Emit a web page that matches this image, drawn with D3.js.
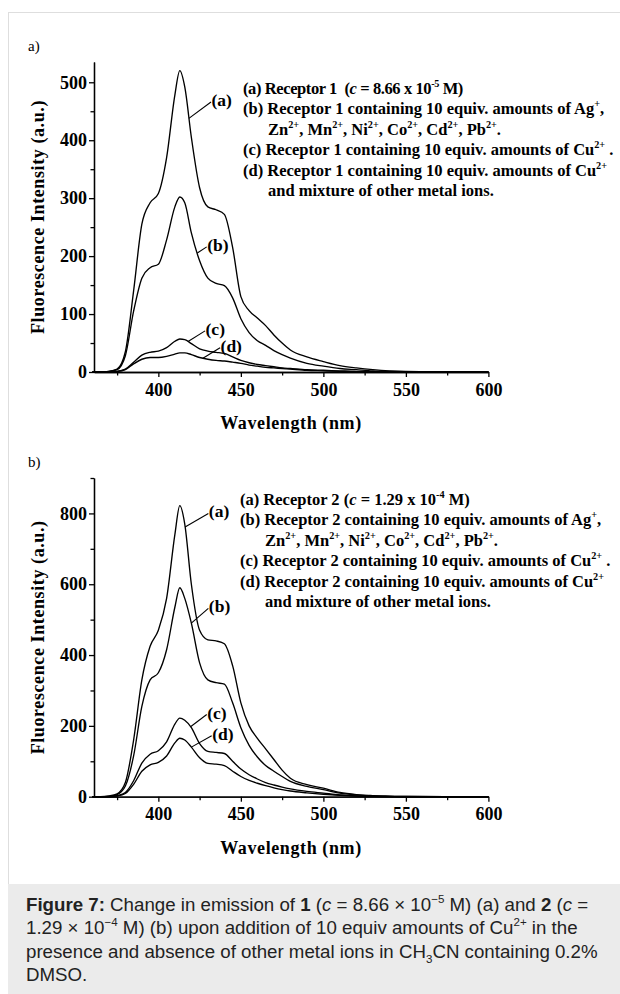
<!DOCTYPE html>
<html><head><meta charset="utf-8">
<script src="https://cdn.jsdelivr.net/npm/d3@7"></script>
<style>
body{margin:0;background:#fff}
svg{display:block}
text{white-space:pre}
</style>
</head><body>
<svg id="chart" width="620" height="994"></svg>
<script>
// ---------------- DATA ----------------
const wavelength = [360,365,370,375,380,385,390,395,400,405,410,413,416,420,425,430,435,440,445,450,455,460,465,470,475,480,490,500,510,520,530,540,550,575,600];

// Panel a) Receptor 1
const r1_a = [0,0,1,5,35,140,255,292,308,370,478,520,492,405,318,285,280,272,215,130,106,93,80,64,50,38,26,18,11,7,4,2,1,0.3,0];
const r1_b = [0,0,1,4,28,105,162,180,186,228,285,302,292,240,192,162,153,149,128,92,68,54,46,37,30,24,15,10,6,4,2,1,0.5,0,0];
const r1_c = [0,0,0,1,5,17,29,34,36,42,53,57,56,49,40,36,34,32,26,20,16,13,11,9,7,6,4,3,2,1,0.5,0,0,0,0];
const r1_d = [0,0,0,1,4,14,22,25,25,27,31,33,33,30,25,22,20,19,17,15,12,10,8,7,6,5,3,2,1,0.5,0,0,0,0,0];

// Panel b) Receptor 2
const r2_a = [0,0,2,8,40,160,330,425,470,560,740,822,770,600,470,443,440,432,370,265,200,165,135,105,75,52,34,24,12,6,3,1,0.5,0,0];
const r2_b = [0,0,1,6,30,115,255,330,350,415,535,590,560,490,378,330,322,318,265,195,145,112,88,72,57,43,29,20,10,5,2,1,0.5,0,0];
const r2_c = [0,0,0,3,12,45,95,120,130,155,205,222,216,195,150,128,125,122,100,78,62,50,40,33,27,22,15,10,5,2,1,0.5,0,0,0];
const r2_d = [0,0,0,2,9,35,72,90,97,115,152,165,160,140,110,94,92,88,72,57,46,38,31,25,20,16,11,7,4,2,1,0.5,0,0,0];

const curveLabels = ["(a)","(b)","(c)","(d)"];
const xMajorTicks = [400,450,500,550,600];
const xMinorTicks = [375,425,475,525,575];
const yMajorTicksTop = [0,100,200,300,400,500];
const yMinorTicksTop = [50,150,250,350,450];
const yMajorTicksBot = [0,200,400,600,800];
const yMinorTicksBot = [100,300,500,700,900];

// label leader lines: [wavelength on curve, label wavelength, label value]
const leadersTop = [[418.5,431.9,466],[423.6,429.3,216],[418.0,428.3,71],[427.0,437.4,42]];
const leadersBot = [[416.2,430.3,800],[420.0,430.3,532],[419.5,429.3,232],[420.0,432.3,172]];

const legendTop = [
  {x:0, ls:-0.4, segs:[{t:"(a) Receptor 1  ("},{t:"c",i:1},{t:" = 8.66 x 10"},{t:"-5",sup:1},{t:" M)"}]},
  {x:0, segs:[{t:"(b) Receptor 1 containing 10 equiv. amounts of Ag"},{t:"+",sup:1},{t:","}]},
  {x:25, segs:[{t:"Zn"},{t:"2+",sup:1},{t:", Mn"},{t:"2+",sup:1},{t:", Ni"},{t:"2+",sup:1},{t:", Co"},{t:"2+",sup:1},{t:", Cd"},{t:"2+",sup:1},{t:", Pb"},{t:"2+",sup:1},{t:"."}]},
  {x:0, segs:[{t:"(c) Receptor 1 containing 10 equiv. amounts of Cu"},{t:"2+",sup:1},{t:" ."}]},
  {x:0, segs:[{t:"(d) Receptor 1 containing 10 equiv. amounts of Cu"},{t:"2+",sup:1}]},
  {x:25, segs:[{t:"and mixture of other metal ions."}]}
];
const legendBot = [
  {x:0, segs:[{t:"(a) Receptor 2 ("},{t:"c",i:1},{t:" = 1.29 x 10"},{t:"-4",sup:1},{t:" M)"}]},
  {x:0, segs:[{t:"(b) Receptor 2 containing 10 equiv. amounts of Ag"},{t:"+",sup:1},{t:","}]},
  {x:25, segs:[{t:"Zn"},{t:"2+",sup:1},{t:", Mn"},{t:"2+",sup:1},{t:", Ni"},{t:"2+",sup:1},{t:", Co"},{t:"2+",sup:1},{t:", Cd"},{t:"2+",sup:1},{t:", Pb"},{t:"2+",sup:1},{t:"."}]},
  {x:0, segs:[{t:"(c) Receptor 2 containing 10 equiv. amounts of Cu"},{t:"2+",sup:1},{t:" ."}]},
  {x:0, segs:[{t:"(d) Receptor 2 containing 10 equiv. amounts of Cu"},{t:"2+",sup:1}]},
  {x:25, segs:[{t:"and mixture of other metal ions."}]}
];

const captionLines = [
  [{t:"Figure 7:",b:1},{t:" Change in emission of "},{t:"1",b:1},{t:" ("},{t:"c",i:1},{t:" = 8.66 × 10"},{t:"−5",sup:1},{t:" M) (a) and "},{t:"2",b:1},{t:" ("},{t:"c",i:1},{t:" ="}],
  [{t:"1.29 × 10"},{t:"−4",sup:1},{t:" M) (b) upon addition of 10 equiv amounts of Cu"},{t:"2+",sup:1},{t:" in the"}],
  [{t:"presence and absence of other metal ions in CH"},{t:"3",sub:1},{t:"CN containing 0.2%"}],
  [{t:"DMSO."}]
];

// ---------------- DRAW ----------------
const svg = d3.select("#chart");
const SERIF = "'Liberation Serif','Times New Roman',serif";
const SANS = "'Liberation Sans',Arial,sans-serif";

// frame + caption background
svg.append("rect").attr("x",8.5).attr("y",12.5).attr("width",640).attr("height",1000)
  .attr("fill","#fff").attr("stroke","#dedede");
svg.append("rect").attr("x",8).attr("y",884).attr("width",620).attr("height",110).attr("fill","#ebebeb");

function rich(textSel, segs, size){
  let shift = 0;
  segs.forEach(s=>{
    const want = s.sup ? -0.42*size : (s.sub ? 0.28*size : 0);
    const ts = textSel.append("tspan").text(s.t);
    if (want !== shift) ts.attr("dy", want - shift);
    shift = want;
    if (s.sup || s.sub) ts.attr("font-size", size*0.62);
    if (s.b) ts.attr("font-weight","bold");
    if (s.i) ts.attr("font-style","italic");
  });
}

function drawPanel(cfg){
  const x = d3.scaleLinear().domain([361,600]).range([94,488.4]);
  const y = d3.scaleLinear().domain([0,cfg.yMax]).range([cfg.y0,cfg.y1]);
  const g = svg.append("g");

  // axes
  const xAxis = d3.axisBottom(x).tickValues(xMajorTicks).tickSize(5).tickPadding(6).tickSizeOuter(0);
  const xMinor = d3.axisBottom(x).tickValues(xMinorTicks).tickSize(3.5).tickFormat("").tickSizeOuter(0);
  const yAxis = d3.axisLeft(y).tickValues(cfg.yMajor).tickSize(5).tickPadding(2).tickSizeOuter(0);
  const yMinor = d3.axisLeft(y).tickValues(cfg.yMinor).tickSize(3.5).tickFormat("").tickSizeOuter(0);

  [[xAxis,true],[xMinor,true],[yAxis,false],[yMinor,false]].forEach(([ax,isX])=>{
    const a = g.append("g").attr("transform", isX ? `translate(0,${cfg.y0})` : "translate(94,0)").call(ax);
    a.selectAll("path,line").attr("stroke","#000").attr("stroke-width",1.3);
    a.selectAll("text").attr("font-family",SERIF).attr("font-weight","bold").attr("font-size",18).attr("fill","#000");
  });

  // curves
  const line = d3.line().x((d,i)=>x(wavelength[i])).y(d=>y(d)).curve(d3.curveMonotoneX);
  cfg.series.forEach(s=>{
    g.append("path").attr("d",line(s)).attr("fill","none").attr("stroke","#000").attr("stroke-width",1.35);
  });

  // curve labels with leader lines
  const interp = (s,w)=>{
    const i = d3.bisectRight(wavelength,w)-1;
    const t = (w-wavelength[i])/(wavelength[i+1]-wavelength[i]);
    return s[i]*(1-t)+s[i+1]*t;
  };
  cfg.leaders.forEach((L,k)=>{
    const s = cfg.series[k];
    const x1 = x(L[0]), y1 = y(interp(s,L[0]));
    const x2 = x(L[1]), y2 = y(L[2]);
    g.append("line").attr("x1",x1).attr("y1",y1).attr("x2",x2).attr("y2",y2)
      .attr("stroke","#000").attr("stroke-width",1.1);
    g.append("text").attr("x",x2+0.5).attr("y",y2-2).attr("dominant-baseline","central")
      .attr("font-family",SERIF).attr("font-weight","bold").attr("font-size",17.5).text(curveLabels[k]);
  });

  // legend
  cfg.legend.forEach((row,k)=>{
    const t = g.append("text").attr("x",cfg.legX+row.x).attr("y",cfg.legY+k*cfg.legDy)
      .attr("font-family",SERIF).attr("font-weight","bold").attr("font-size",16.5);
    if (row.ls) t.attr("letter-spacing",row.ls);
    rich(t,row.segs,16.5);
  });

  // axis titles
  g.append("text").attr("x",291).attr("y",cfg.y0+57).attr("text-anchor","middle")
    .attr("font-family",SERIF).attr("font-weight","bold").attr("font-size",18).attr("letter-spacing",0.6)
    .text("Wavelength (nm)");
  g.append("text").attr("transform",`translate(44,${(cfg.y0+cfg.y1)/2}) rotate(-90)`).attr("text-anchor","middle")
    .attr("font-family",SERIF).attr("font-weight","bold").attr("font-size",18).attr("letter-spacing",0.6)
    .text("Fluorescence Intensity (a.u.)");
  g.append("text").attr("x",28).attr("y",cfg.y1-11).attr("font-family",SERIF).attr("font-size",15)
    .text(cfg.panel);
}

drawPanel({panel:"a)", y0:372, y1:62, yMax:535, yMajor:yMajorTicksTop, yMinor:yMinorTicksTop,
  series:[r1_a,r1_b,r1_c,r1_d], leaders:leadersTop, legend:legendTop, legX:243, legY:94, legDy:20.4});
drawPanel({panel:"b)", y0:796.7, y1:478, yMax:900, yMajor:yMajorTicksBot, yMinor:yMinorTicksBot,
  series:[r2_a,r2_b,r2_c,r2_d], leaders:leadersBot, legend:legendBot, legX:240, legY:505, legDy:20.4});

// caption
captionLines.forEach((segs,k)=>{
  const t = svg.append("text").attr("x",26).attr("y",911+k*23.3)
    .attr("font-family",SANS).attr("font-size",18.7).attr("fill","#222");
  rich(t,segs,18.7);
});
</script>
</body></html>
